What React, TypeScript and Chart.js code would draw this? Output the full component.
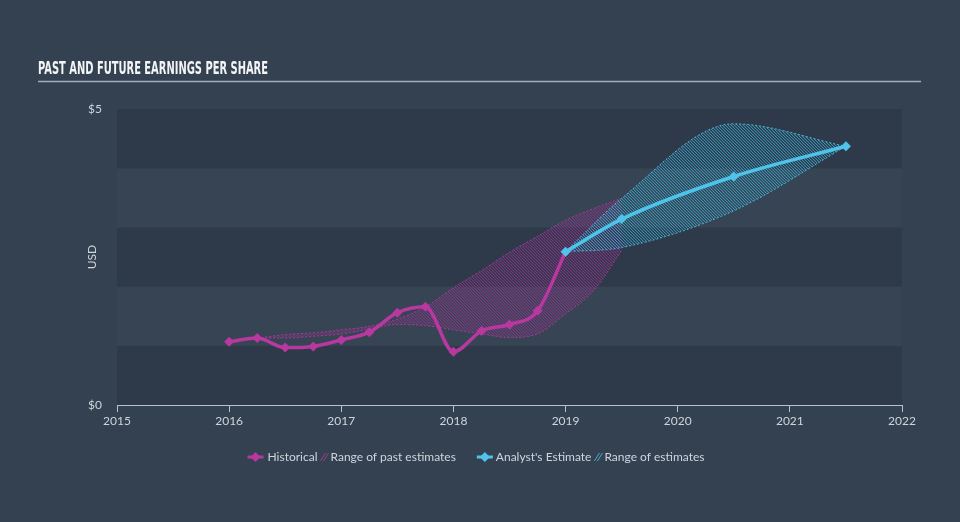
import React, { useEffect, useRef } from "react";
import { Chart, registerables } from "chart.js";

Chart.register(...registerables);

// ---- data ----
const historicalYears = [2016, 2016.25, 2016.5, 2016.75, 2017, 2017.25, 2017.5, 2017.75, 2018, 2018.25, 2018.5, 2018.75, 2019];
const historicalEps = [1.07, 1.13, 0.97, 0.99, 1.1, 1.23, 1.56, 1.66, 0.9, 1.25, 1.36, 1.59, 2.59];

const pastRangeYears = [2016.25, 2016.5, 2016.75, 2017, 2017.25, 2017.5, 2017.75, 2018, 2018.25, 2018.5, 2018.75, 2019, 2019.25, 2019.5];
const pastRangeLow = [1.13, 1.13, 1.16, 1.2, 1.28, 1.36, 1.34, 1.27, 1.2, 1.14, 1.2, 1.54, 1.93, 2.61];
const pastRangeHigh = [1.13, 1.19, 1.22, 1.27, 1.33, 1.45, 1.66, 1.98, 2.27, 2.58, 2.85, 3.12, 3.32, 3.49];

const estimateYears = [2019, 2019.5, 2020.5, 2021.5];
const estimateEps = [2.59, 3.14, 3.86, 4.37];
const estimateLow = [2.59, 2.66, 3.28, 4.37];
const estimateHigh = [2.59, 3.49, 4.75, 4.37];

const yTicks = [0, 5];
const xMin = 2015;
const xMax = 2022;

const TITLE = "PAST AND FUTURE EARNINGS PER SHARE";
const LEGEND = ["Historical", "Range of past estimates", "Analyst's Estimate", "Range of estimates"];

const PINK = "#b8389f";
const BLUE = "#4fc4ea";
const BG = "#344150";
const BAND_DARK = "#2e3a49";
const BAND_LIGHT = "#364453";
const TEXT = "#cfd5dc";

const pts = (xs: number[], ys: number[]) => xs.map((x, i) => ({ x, y: ys[i] }));

function makeHatch(ctx: CanvasRenderingContext2D, rgb: string) {
  const c = document.createElement("canvas");
  c.width = 3;
  c.height = 3;
  const g = c.getContext("2d")!;
  for (let i = 0; i < 3; i++) {
    g.fillStyle = `rgba(${rgb},0.72)`;
    g.fillRect(i, i, 1, 1);
    g.fillStyle = `rgba(${rgb},0.2)`;
    g.fillRect((i + 1) % 3, i, 1, 1);
  }
  return ctx.createPattern(c, "repeat")!;
}

const decorPlugin = {
  id: "decor",
  beforeDraw(chart: any) {
    const { ctx, chartArea, scales } = chart;
    ctx.save();
    ctx.fillStyle = BG;
    ctx.fillRect(0, 0, chart.width, chart.height);
    const y = scales.y;
    for (let v = 0; v < 5; v++) {
      const top = y.getPixelForValue(v + 1);
      const bot = y.getPixelForValue(v);
      ctx.fillStyle = v % 2 === 0 ? BAND_DARK : BAND_LIGHT;
      ctx.fillRect(chartArea.left, top, chartArea.right - chartArea.left, bot - top);
    }
    ctx.font = "bold 17px 'Liberation Sans Narrow', 'DejaVu Sans Condensed', 'Roboto', sans-serif";
    const w = ctx.measureText(TITLE).width;
    ctx.fillStyle = "#f2f4f6";
    ctx.textBaseline = "alphabetic";
    ctx.translate(38, 74);
    ctx.scale(230 / w, 1);
    ctx.fillText(TITLE, 0, 0);
    ctx.setTransform(1, 0, 0, 1, 0, 0);
    ctx.strokeStyle = "#a3acb7";
    ctx.lineWidth = 1.5;
    ctx.beginPath();
    ctx.moveTo(38, 81.5);
    ctx.lineTo(921, 81.5);
    ctx.stroke();
    ctx.restore();
  },
  afterDraw(chart: any) {
    const { ctx } = chart;
    ctx.save();
    ctx.font = "12px Lato, 'Open Sans', sans-serif";
    ctx.textBaseline = "middle";
    const yc = 457;
    const markerW = 16;
    const hatchW = 8;
    const widths = LEGEND.map((t) => ctx.measureText(t).width);
    const total = markerW + 4 + widths[0] + 3 + hatchW + 2 + widths[1] + 21 + markerW + 3 + widths[2] + 3 + hatchW + 2 + widths[3];
    let x = 476 - total / 2;
    const marker = (color: string) => {
      ctx.strokeStyle = color;
      ctx.lineWidth = 3;
      ctx.beginPath();
      ctx.moveTo(x, yc);
      ctx.lineTo(x + markerW, yc);
      ctx.stroke();
      ctx.fillStyle = color;
      const cx = x + markerW / 2;
      ctx.beginPath();
      ctx.moveTo(cx, yc - 5);
      ctx.lineTo(cx + 5, yc);
      ctx.lineTo(cx, yc + 5);
      ctx.lineTo(cx - 5, yc);
      ctx.closePath();
      ctx.fill();
      x += markerW;
    };
    const hatch = (color: string) => {
      ctx.strokeStyle = color;
      ctx.lineWidth = 1;
      ctx.globalAlpha = 0.8;
      ctx.beginPath();
      ctx.moveTo(x, yc + 4);
      ctx.lineTo(x + 5, yc - 4);
      ctx.moveTo(x + 3, yc + 4);
      ctx.lineTo(x + 8, yc - 4);
      ctx.stroke();
      ctx.globalAlpha = 1;
      x += hatchW;
    };
    const text = (i: number) => {
      ctx.fillStyle = TEXT;
      ctx.fillText(LEGEND[i], x, yc);
      x += widths[i];
    };
    marker(PINK); x += 4; text(0); x += 3; hatch(PINK); x += 2; text(1);
    x += 21;
    marker(BLUE); x += 3; text(2); x += 3; hatch(BLUE); x += 2; text(3);
    ctx.restore();
  },
};

export default function App() {
  const ref = useRef<HTMLCanvasElement>(null);
  useEffect(() => {
    const canvas = ref.current!;
    const ctx = canvas.getContext("2d")!;
    const pinkHatch = makeHatch(ctx, "160,50,150");
    const blueHatch = makeHatch(ctx, "60,175,215");
    const chart = new Chart(canvas, {
      type: "line",
      data: {
        datasets: [
          {
            label: "Past high",
            data: pts(pastRangeYears, pastRangeHigh),
            borderColor: "rgba(184,56,159,0.8)",
            borderWidth: 1,
            borderDash: [2, 2],
            pointRadius: 0,
            cubicInterpolationMode: "monotone",
            fill: false,
            order: 3,
          },
          {
            label: "Range of past estimates",
            data: pts(pastRangeYears, pastRangeLow),
            borderColor: "rgba(184,56,159,0.8)",
            borderWidth: 1,
            borderDash: [2, 2],
            pointRadius: 0,
            cubicInterpolationMode: "monotone",
            backgroundColor: pinkHatch,
            fill: "-1",
            order: 3,
          },
          {
            label: "Estimate high",
            data: pts(estimateYears, estimateHigh),
            borderColor: "rgba(79,196,234,0.85)",
            borderWidth: 1,
            borderDash: [2, 2],
            pointRadius: 0,
            cubicInterpolationMode: "monotone",
            fill: false,
            order: 2,
          },
          {
            label: "Range of estimates",
            data: pts(estimateYears, estimateLow),
            borderColor: "rgba(79,196,234,0.85)",
            borderWidth: 1,
            borderDash: [2, 2],
            pointRadius: 0,
            cubicInterpolationMode: "monotone",
            backgroundColor: blueHatch,
            fill: "-1",
            order: 2,
          },
          {
            label: "Historical",
            data: pts(historicalYears, historicalEps),
            borderColor: PINK,
            backgroundColor: PINK,
            borderWidth: 3.5,
            pointStyle: "rectRot",
            pointRadius: 5,
            pointBorderWidth: 0,
            cubicInterpolationMode: "monotone",
            fill: false,
            order: 1,
          },
          {
            label: "Analyst's Estimate",
            data: pts(estimateYears, estimateEps),
            borderColor: BLUE,
            backgroundColor: BLUE,
            borderWidth: 3.5,
            pointStyle: "rectRot",
            pointRadius: 5,
            pointBorderWidth: 0,
            cubicInterpolationMode: "monotone",
            fill: false,
            order: 0,
          },
        ],
      },
      options: {
        animation: false,
        responsive: false,
        devicePixelRatio: 1,
        layout: { padding: { left: 0, top: 109, right: 58, bottom: 87 } },
        plugins: { legend: { display: false }, tooltip: { enabled: false } },
        scales: {
          x: {
            type: "linear",
            min: xMin,
            max: xMax,
            afterFit: (s: any) => {
              s.height = 30;
            },
            ticks: {
              stepSize: 1,
              color: TEXT,
              padding: 2,
              font: { family: "Lato, 'Open Sans', sans-serif", size: 12 },
              callback: (v: any) => String(v),
              maxRotation: 0,
            },
            grid: { drawOnChartArea: false, drawTicks: true, tickLength: 7, color: "#b9c2cc", lineWidth: 1 },
            border: { display: true, color: "#b9c2cc", width: 1 },
          },
          y: {
            min: 0,
            max: 5,
            afterFit: (s: any) => {
              s.width = 117;
            },
            afterBuildTicks: (s: any) => {
              s.ticks = yTicks.map((v) => ({ value: v }));
            },
            ticks: {
              color: TEXT,
              padding: 15,
              font: { family: "Lato, 'Open Sans', sans-serif", size: 12 },
              callback: (v: any) => "$" + v,
            },
            grid: { display: false, drawTicks: false },
            border: { display: false },
            title: {
              display: true,
              text: "USD",
              color: TEXT,
              font: { family: "Lato, 'Open Sans', sans-serif", size: 12 },
              padding: { top: 85, bottom: 0 },
            },
          },
        },
      },
      plugins: [decorPlugin],
    } as any);
    return () => chart.destroy();
  }, []);
  return (
    <div style={{ position: "fixed", left: 0, top: 0, width: 960, height: 522, background: BG }}>
      <canvas ref={ref} width={960} height={522} style={{ display: "block", width: 960, height: 522 }} />
    </div>
  );
}
